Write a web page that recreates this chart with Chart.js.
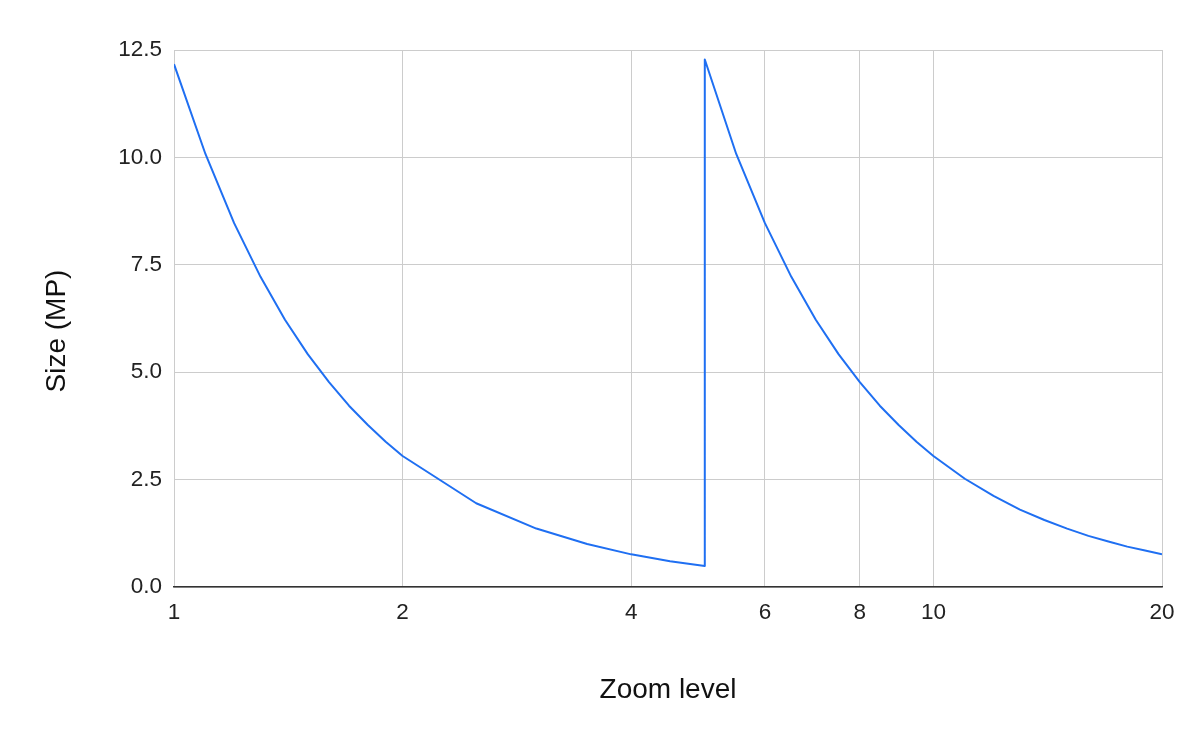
<!DOCTYPE html>
<html>
<head>
<meta charset="utf-8">
<script src="https://cdn.jsdelivr.net/npm/chart.js@4/dist/chart.umd.min.js"></script>
<style>
  html, body { margin: 0; padding: 0; background: #ffffff; }
  #wrap { width: 1200px; height: 744px; position: relative; }
</style>
</head>
<body>
<div id="wrap"><canvas id="c" width="1200" height="744"></canvas></div>
<script>
// Zoom levels (x) and image size in megapixels (y)
const zoomLevels = [1, 1.1, 1.2, 1.3, 1.4, 1.5, 1.6, 1.7, 1.8, 1.9, 2, 2.5, 3, 3.5, 4, 4.5, 5,
                    5, 5.5, 6, 6.5, 7, 7.5, 8, 8.5, 9, 9.5, 10, 11, 12, 13, 14, 15, 16, 17, 18, 19, 20];
const sizeMP = [12.17, 10.08, 8.47, 7.22, 6.22, 5.42, 4.77, 4.22, 3.77, 3.38, 3.05, 1.95, 1.36, 1.00, 0.76, 0.60, 0.49,
                12.28, 10.08, 8.47, 7.22, 6.22, 5.42, 4.77, 4.22, 3.77, 3.38, 3.05, 2.52, 2.12, 1.80, 1.56, 1.36, 1.19, 1.06, 0.94, 0.85, 0.76];
const xTicks = [1, 2, 4, 6, 8, 10, 20];
const yTicks = [0, 2.5, 5, 7.5, 10, 12.5];
const xTitle = 'Zoom level';
const yTitle = 'Size (MP)';

const points = zoomLevels.map((z, i) => ({ x: z, y: sizeMP[i] }));
const FONT = 'Liberation Sans, Arial, sans-serif';

const yTitlePlugin = {
  id: 'yTitlePlugin',
  afterDraw(chart) {
    const ctx = chart.ctx;
    ctx.save();
    ctx.translate(57, 331);
    ctx.rotate(-Math.PI / 2);
    ctx.fillStyle = '#111';
    ctx.font = '28px ' + FONT;
    ctx.textAlign = 'center';
    ctx.textBaseline = 'middle';
    ctx.fillText(yTitle, 0, 0);
    ctx.restore();
  }
};

new Chart(document.getElementById('c'), {
  type: 'line',
  data: {
    datasets: [{
      data: points,
      borderColor: '#1f6ff2',
      borderWidth: 2,
      pointRadius: 0,
      tension: 0,
      fill: false,
      borderJoinStyle: 'round'
    }]
  },
  plugins: [yTitlePlugin],
  options: {
    responsive: false,
    animation: false,
    layout: { padding: { top: 50, right: 38, bottom: 0, left: 0 } },
    plugins: { legend: { display: false }, tooltip: { enabled: false } },
    scales: {
      x: {
        type: 'logarithmic',
        min: 1,
        max: 20,
        afterFit: s => { s.height = 157; },
        afterBuildTicks: s => { s.ticks = xTicks.map(v => ({ value: v })); },
        ticks: {
          autoSkip: false,
          maxRotation: 0,
          padding: 12,
          color: '#222',
          font: { family: FONT, size: 22.5 },
          callback: v => String(v)
        },
        grid: { color: '#cccccc', lineWidth: 1, drawTicks: false },
        border: { display: true, color: '#333333', width: 1.5 },
        title: {
          display: true,
          text: xTitle,
          color: '#111',
          font: { family: FONT, size: 28 },
          padding: { top: 0, bottom: 37 }
        }
      },
      y: {
        min: 0,
        max: 12.5,
        afterFit: s => { s.width = 174; },
        afterBuildTicks: s => { s.ticks = yTicks.map(v => ({ value: v })); },
        ticks: {
          padding: 12,
          color: '#222',
          font: { family: FONT, size: 22.5 },
          callback: v => Number(v).toFixed(1)
        },
        grid: { color: '#cccccc', lineWidth: 1, drawTicks: false },
        border: { display: false },
        title: { display: false }
      }
    }
  }
});
</script>
</body>
</html>
